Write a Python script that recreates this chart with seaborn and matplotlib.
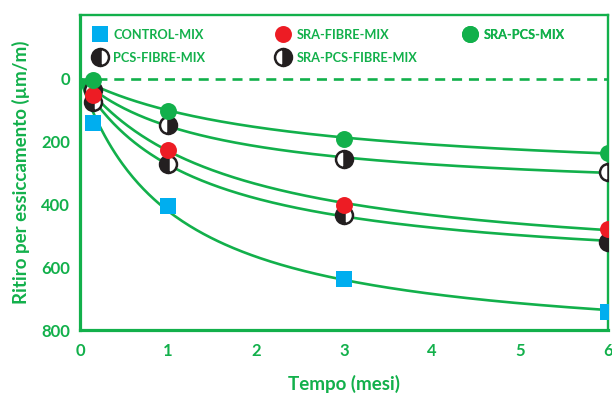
import numpy as np
import pandas as pd
import matplotlib
matplotlib.use("Agg")
import matplotlib.pyplot as plt
import seaborn as sns
from matplotlib.lines import Line2D

# Measured drying shrinkage (µm/m) at each age (months)
months = [0.15, 1, 3, 6]
control_mix = [142, 405, 638, 743]
sra_fibre_mix = [52, 226, 402, 479]
sra_pcs_mix = [5, 104, 191, 236]
pcs_fibre_mix = [75, 272, 434, 520]
sra_pcs_fibre_mix = [37, 148, 255, 298]

series_names = ["CONTROL-MIX", "SRA-FIBRE-MIX", "SRA-PCS-MIX",
                "PCS-FIBRE-MIX", "SRA-PCS-FIBRE-MIX"]
series_values = [control_mix, sra_fibre_mix, sra_pcs_mix,
                 pcs_fibre_mix, sra_pcs_fibre_mix]

x_ticks = [0, 1, 2, 3, 4, 5, 6]
y_ticks = [0, 200, 400, 600, 800]

GREEN = "#12B04B"
TICK_GREEN = "#3DBB63"
BLUE = "#00AEEF"
RED = "#ED1C24"
BLACK = "#231F20"

sns.set_theme(style="white")
plt.rcParams["font.family"] = ["Lato", "DejaVu Sans"]
plt.rcParams["font.weight"] = "bold"


def fit_hyperbolic(t, y):
    """Least-squares fit of y = a*t/(b+t); returns (a, b)."""
    t = np.asarray(t, float)
    y = np.asarray(y, float)
    best = None
    for b in np.linspace(0.05, 8, 4000):
        g = t / (b + t)
        a = np.dot(g, y) / np.dot(g, g)
        err = np.sum((a * g - y) ** 2)
        if best is None or err < best[0]:
            best = (err, a, b)
    return best[1], best[2]


fig = plt.figure(figsize=(6.12, 3.94), dpi=100)
ax = fig.add_axes([0.1307, 0.1624, 0.8628, 0.7995])

# Fitted shrinkage curves
t_fine = np.linspace(0, 6, 300)
curve_rows = []
for name, vals in zip(series_names, series_values):
    a, b = fit_hyperbolic(months, vals)
    for t in t_fine:
        curve_rows.append({"mix": name, "t": t, "shrink": a * t / (b + t)})
curves = pd.DataFrame(curve_rows)
sns.lineplot(data=curves, x="t", y="shrink", units="mix", estimator=None,
             color=GREEN, lw=1.9, ax=ax, legend=False, zorder=2)

# Zero reference line
ax.axhline(0, color=GREEN, lw=1.9, linestyle=(0, (3.8, 2.6)), zorder=1)

# Measured points
styles = {
    "CONTROL-MIX": dict(marker="s", color=BLUE, markeredgecolor=BLUE,
                        markeredgewidth=0),
    "PCS-FIBRE-MIX": dict(marker="o", color=BLACK, fillstyle="left",
                          markerfacecoloralt="white", markeredgecolor=BLACK,
                          markeredgewidth=1.8),
    "SRA-PCS-FIBRE-MIX": dict(marker="o", color=BLACK, fillstyle="right",
                              markerfacecoloralt="white", markeredgecolor=BLACK,
                              markeredgewidth=1.8),
    "SRA-FIBRE-MIX": dict(marker="o", color=RED, markeredgecolor=RED,
                          markeredgewidth=0),
    "SRA-PCS-MIX": dict(marker="o", color=GREEN, markeredgecolor=GREEN,
                        markeredgewidth=0),
}
draw_order = ["CONTROL-MIX", "PCS-FIBRE-MIX", "SRA-PCS-FIBRE-MIX",
              "SRA-FIBRE-MIX", "SRA-PCS-MIX"]
lookup = dict(zip(series_names, series_values))
for z, name in enumerate(draw_order):
    ax.plot(months, lookup[name], linestyle="none", markersize=12.2,
            zorder=5 + z, **styles[name])

ax.set_xlim(0, 6)
ax.set_ylim(800, -202)
ax.set_xticks(x_ticks)
ax.set_yticks(y_ticks)
ax.set_xticklabels([str(v) for v in x_ticks])
ax.set_yticklabels([str(v) for v in y_ticks])

for side in ["left", "bottom"]:
    ax.spines[side].set_color(GREEN)
    ax.spines[side].set_linewidth(2.3)
for side in ["top", "right"]:
    ax.spines[side].set_color(GREEN)
    ax.spines[side].set_linewidth(1.7)

ax.tick_params(axis="both", direction="in", length=8, width=1.3,
               color=TICK_GREEN, labelcolor=GREEN, labelsize=12)
ax.tick_params(axis="y", pad=7)
ax.tick_params(axis="x", pad=9)
for lab in ax.get_xticklabels() + ax.get_yticklabels():
    lab.set_fontweight("bold")

ax.set_xlabel("Tempo (mesi)", color=GREEN, fontsize=13.5,
              fontweight="bold", labelpad=12)
ax.set_ylabel("Ritiro per essiccamento (µm/m)", color=GREEN, fontsize=13.5,
              fontweight="bold", labelpad=8)


def legend_handle(name):
    return Line2D([], [], linestyle="none", markersize=12.2, **styles[name])


columns = [(["CONTROL-MIX", "PCS-FIBRE-MIX"], 0.006),
           (["SRA-FIBRE-MIX", "SRA-PCS-FIBRE-MIX"], 0.353),
           (["SRA-PCS-MIX"], 0.707)]
for names, x0 in columns:
    leg = ax.legend([legend_handle(n) for n in names], names,
                    loc="upper left", bbox_to_anchor=(x0, 0.985),
                    frameon=False, handlelength=1.2, handletextpad=0.45,
                    labelspacing=0.85, borderpad=0.2,
                    prop={"family": ["Lato", "DejaVu Sans"],
                          "weight": "bold", "size": 9.2})
    for txt in leg.get_texts():
        txt.set_color(GREEN)
    ax.add_artist(leg)

fig.savefig("out.png", dpi=100)
